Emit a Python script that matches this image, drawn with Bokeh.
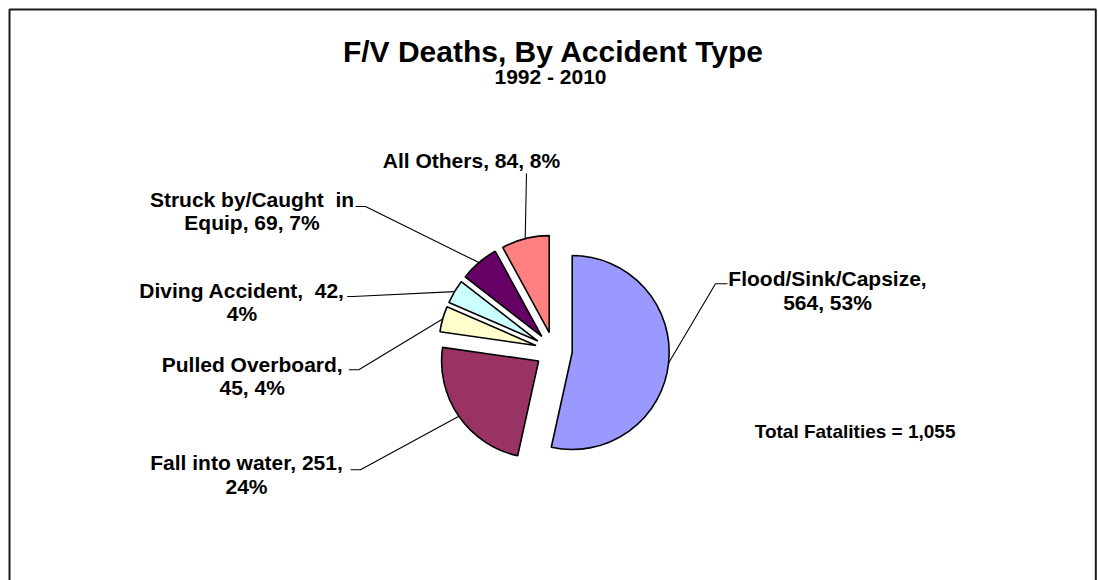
import math
from bokeh.plotting import figure
from bokeh.models import Range1d, ColumnDataSource
from bokeh.embed import file_html
from bokeh.resources import INLINE
from bokeh.core.properties import value

# ---------------- data ----------------
title_text = "F/V Deaths, By Accident Type"
subtitle_text = "1992 - 2010"
categories = ["Flood/Sink/Capsize", "Fall into water", "Pulled Overboard",
              "Diving Accident", "Struck by/Caught  in Equip", "All Others"]
deaths = [564, 251, 45, 42, 69, 84]
colors = ["#9999FF", "#993366", "#FFFFCC", "#CCFFFF", "#660066", "#FF8080"]

total = sum(deaths)
pcts = [round(v / total * 100) for v in deaths]
total_text = f"Total Fatalities = {total:,}"

NB = "\u00a0"
label_lines = [
    [f"{categories[0]},", f"{deaths[0]}, {pcts[0]}%"],
    [f"{categories[1]}, {deaths[1]},", f"{pcts[1]}%"],
    [f"{categories[2]},", f"{deaths[2]}, {pcts[2]}%"],
    [f"{categories[3]},{NB} {deaths[3]},", f"{pcts[3]}%"],
    [f"Struck by/Caught{NB} in", f"Equip, {deaths[4]}, {pcts[4]}%"],
    [f"{categories[5]}, {deaths[5]}, {pcts[5]}%"],
]

# ---------------- layout ----------------
W, H = 1098, 580
def X(px):
    return px
def Y(py):
    return H - py
BASE_FIX = 0.38  # renderer places alphabetic baseline ~0.38em low
def YT(py, size):
    return Y(py - BASE_FIX * size)

pie_cx, pie_cy = X(553.3), Y(350.0)
R = 97.0
EXPLODE = 18.5

# label layout: center x, first baseline (page px), anchor point, tick dx
label_layout = [
    dict(cx=827, b=286, ax=727, ay=283.3, tick=-12),
    dict(cx=246, b=470, ax=350, ay=469.3, tick=10),
    dict(cx=251.7, b=371.7, ax=348.3, ay=369.3, tick=10),
    dict(cx=241.5, b=297.7, ax=346.7, ay=296.0, tick=6),
    dict(cx=251.5, b=206.7, ax=355, ay=206.0, tick=10),
    dict(cx=471, b=168, ax=526, ay=173.0, tick=0),
]
LINE_GAP = 23.5
FONT = "Liberation Sans"
LBL = 21

p = figure(width=W, height=H, x_range=Range1d(0, W), y_range=Range1d(0, H),
           output_backend="svg", toolbar_location=None, min_border=0)
p.axis.visible = False
p.grid.visible = False
p.outline_line_color = None
p.background_fill_color = "white"
p.border_fill_color = "white"

# frame border (left, top, right)
p.line(x=[X(9), X(9), X(1095.3), X(1095.3)], y=[0, Y(9), Y(9), 0],
       line_color="#1a1a1a", line_width=2)

# wedges
theta = 0.0
wx, wy, sa, ea, mids = [], [], [], [], []
for v in deaths:
    t1 = theta
    t2 = theta + v / total * 360.0
    tm = (t1 + t2) / 2
    theta = t2
    cx = pie_cx + EXPLODE * math.sin(math.radians(tm))
    cy = pie_cy + EXPLODE * math.cos(math.radians(tm))
    wx.append(cx); wy.append(cy)
    sa.append(math.radians(90 - t2)); ea.append(math.radians(90 - t1))
    mids.append(tm)

src = ColumnDataSource(dict(x=wx, y=wy, sa=sa, ea=ea, color=colors))
p.wedge(x="x", y="y", radius=R, start_angle="sa", end_angle="ea",
        direction="anticlock", fill_color="color", line_color="black",
        line_width=1.6, source=src)

# leader lines
for i, lay in enumerate(label_layout):
    tm = math.radians(mids[i])
    ex = wx[i] + R * math.sin(tm)
    ey = wy[i] + R * math.cos(tm)
    xs = [X(lay["ax"]), X(lay["ax"] + lay["tick"]), ex]
    ys = [Y(lay["ay"]), Y(lay["ay"]), ey]
    p.line(x=xs, y=ys, line_color="black", line_width=1.1)

# label text
tx, ty, tt = [], [], []
for lines, lay in zip(label_lines, label_layout):
    for k, s in enumerate(lines):
        tx.append(X(lay["cx"]))
        ty.append(YT(lay["b"] + k * LINE_GAP, LBL))
        tt.append(s)
p.text(x=tx, y=ty, text=tt, text_font=value(FONT), text_font_style="bold",
       text_font_size=f"{LBL}px", text_align="center", text_baseline="alphabetic",
       text_color="black")

# title, subtitle, total
p.text(x=[X(553)], y=[YT(62.5, 30)], text=[title_text], text_font=value(FONT),
       text_font_style="bold", text_font_size="30px", text_align="center",
       text_baseline="alphabetic", text_color="black")
p.text(x=[X(550)], y=[YT(83.5, 21)], text=[subtitle_text], text_font=value(FONT),
       text_font_style="bold", text_font_size="21px", text_align="center",
       text_baseline="alphabetic", text_color="black")
p.text(x=[X(854.6)], y=[YT(438, 19)], text=[total_text], text_font=value(FONT),
       text_font_style="bold", text_font_size="19px", text_align="center",
       text_baseline="alphabetic", text_color="black")

open("out.html", "w").write(file_html(p, INLINE))
